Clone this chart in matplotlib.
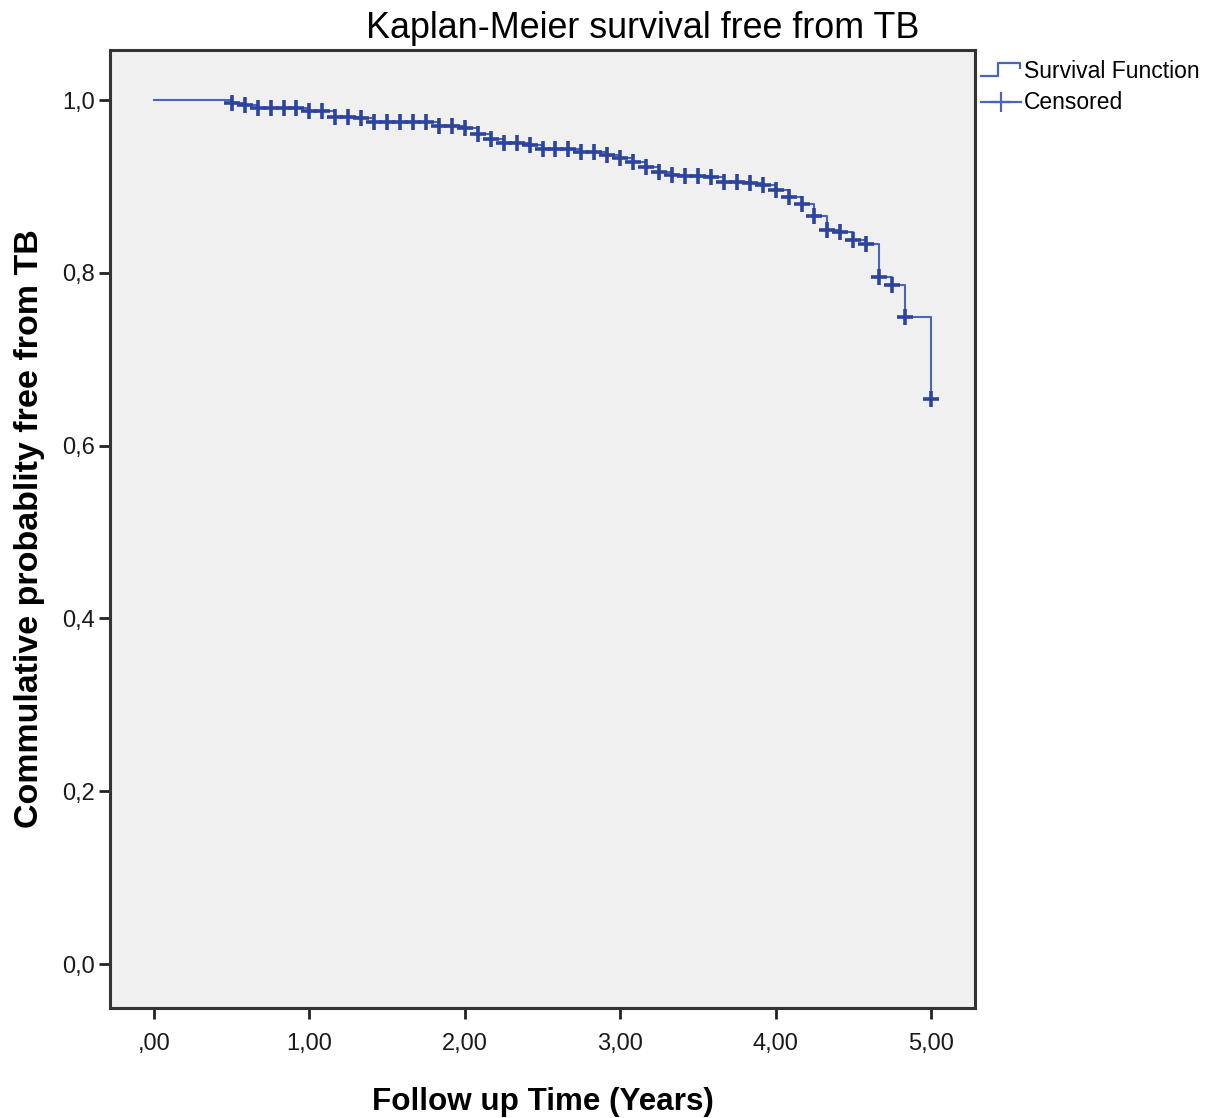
import numpy as np
import matplotlib
matplotlib.use("Agg")
import matplotlib.pyplot as plt
from matplotlib.lines import Line2D
from matplotlib.legend_handler import HandlerBase

# ---- data ----
censor_months = [6, 7, 8, 9, 10, 11, 12, 13, 14, 15, 16, 17, 18, 19, 20, 21, 22, 23,
                 24, 25, 26, 27, 28, 29, 30, 31, 32, 33, 34, 35, 36, 37, 38, 39, 40,
                 41, 42, 43, 44, 45, 46, 47, 48, 49, 50, 51, 52, 53, 54, 55, 56, 57,
                 58, 60]
survival = [0.997, 0.994, 0.991, 0.991, 0.991, 0.991, 0.987, 0.987, 0.980, 0.980,
            0.979, 0.975, 0.975, 0.975, 0.975, 0.975, 0.970, 0.970, 0.968, 0.961,
            0.955, 0.950, 0.950, 0.948, 0.943, 0.943, 0.943, 0.940, 0.940, 0.936,
            0.933, 0.928, 0.922, 0.917, 0.913, 0.912, 0.912, 0.911, 0.905, 0.905,
            0.904, 0.902, 0.896, 0.888, 0.880, 0.866, 0.850, 0.847, 0.838, 0.833,
            0.795, 0.786, 0.749, 0.654]
x_ticks = [0, 1, 2, 3, 4, 5]
x_tick_labels = [",00", "1,00", "2,00", "3,00", "4,00", "5,00"]
y_ticks = [0.0, 0.2, 0.4, 0.6, 0.8, 1.0]
y_tick_labels = ["0,0", "0,2", "0,4", "0,6", "0,8", "1,0"]

title = "Kaplan-Meier survival free from TB"
xlabel = "Follow up Time (Years)"
ylabel = "Commulative probablity free from TB"

plt.rcParams['font.family'] = ['Liberation Sans', 'DejaVu Sans']

# ---- figure ----
W, H = 1205, 1118
fig = plt.figure(figsize=(W / 100, H / 100), dpi=100)
fig.patch.set_facecolor('white')
ax = fig.add_axes([110 / W, 1 - 1008 / H, (975 - 110) / W, (1008 - 50) / H])
ax.set_facecolor('#F0F0F0')

line_c = '#4A65B8'
mark_c = '#2C449E'

t_years = np.array(censor_months) / 12.0
xs = np.concatenate([[0.0], t_years])
ys = np.concatenate([[1.0], survival])
ax.plot(xs, ys, drawstyle='steps-post', color=line_c, lw=1.5, zorder=2)
ax.plot(t_years, survival, linestyle='none', marker='+', markersize=12,
        markeredgewidth=2.6, color=mark_c, zorder=3)

ax.set_xlim(-44 / 155.4, (975 - 154) / 155.4)
ax.set_ylim(-44 / 864, 1 + 50 / 864)
ax.set_xticks(x_ticks)
ax.set_xticklabels(x_tick_labels)
ax.set_yticks(y_ticks)
ax.set_yticklabels(y_tick_labels)
ax.tick_params(axis='both', direction='out', length=8, width=2, color='#222222',
               labelsize=17, labelcolor='#1a1a1a')
ax.tick_params(axis='y', pad=3)
ax.tick_params(axis='x', pad=10)
for sp in ax.spines.values():
    sp.set_linewidth(2.2)
    sp.set_color('#333333')

fig.text(643 / W, 1 - 29 / H, title, fontsize=25.8, ha='center', va='center',
         color='black')
ax.set_xlabel(xlabel, fontsize=22.6, fontweight='bold', labelpad=23)
ax.set_ylabel(ylabel, fontsize=24.5, fontweight='bold', labelpad=12)


class StepHandler(HandlerBase):
    def create_artists(self, legend, orig_handle, xdescent, ydescent, width,
                       height, fontsize, trans):
        x0, y0 = -xdescent, -ydescent
        lo = y0 + height * 0.15
        hi = y0 + height * 0.95
        px = [x0, x0 + width * 0.42, x0 + width * 0.42, x0 + width * 0.97, x0 + width * 0.97]
        py = [lo, lo, hi, hi, y0 + height * 0.6]
        l = Line2D(px, py, color=line_c, lw=1.6, transform=trans)
        return [l]


class CensorHandler(HandlerBase):
    def create_artists(self, legend, orig_handle, xdescent, ydescent, width,
                       height, fontsize, trans):
        x0, y0 = -xdescent, -ydescent
        yc = y0 + height * 0.45
        l = Line2D([x0, x0 + width], [yc, yc], color=line_c, lw=1.6, transform=trans)
        m = Line2D([x0 + width * 0.5], [yc], marker='+', markersize=15,
                   markeredgewidth=1.6, color=line_c, linestyle='none', transform=trans)
        return [l, m]


h1 = Line2D([], [], color=line_c)
h2 = Line2D([], [], color=line_c, marker='+')
leg = fig.legend([h1, h2], ["Survival Function", "Censored"],
                 handler_map={h1: StepHandler(), h2: CensorHandler()},
                 loc='upper left', bbox_to_anchor=(981 / W, 1 - 60 / H),
                 frameon=False, fontsize=16.5, handlelength=1.75, handletextpad=0.12,
                 labelspacing=0.35, borderaxespad=0, borderpad=0)

fig.savefig('out.png', dpi=100, facecolor='white')
